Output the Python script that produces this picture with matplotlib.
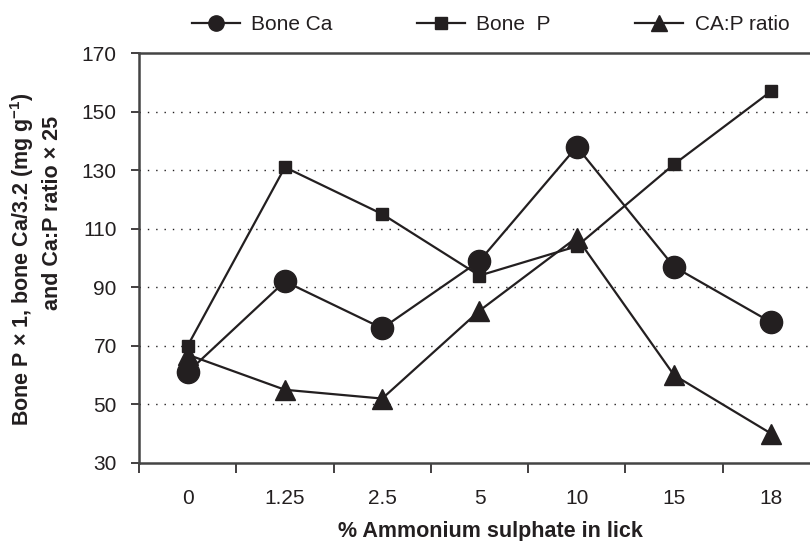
'''Bone Ca, bone P and Ca:P ratio against ammonium sulphate level in the lick.'''

import matplotlib.pyplot as plt
from matplotlib.lines import Line2D

plt.rcParams['font.family'] = ['Liberation Sans', 'DejaVu Sans']
plt.rcParams['mathtext.default'] = 'regular'

# Data
levels = ['0', '1.25', '2.5', '5', '10', '15', '18']
bone_ca = [61, 92, 76, 99, 138, 97, 78]
bone_p = [70, 131, 115, 94, 104, 132, 157]
ca_p_ratio = [67, 55, 52, 82, 107, 60, 40]
series_names = ['Bone Ca', 'Bone  P', 'CA:P ratio']

INK = '#231f20'
FS = 15

fig = plt.figure(figsize=(8.1, 5.41), dpi=100)
# right edge of the axes runs past the figure, as in the original crop
ax = fig.add_axes([0.1716, 0.1442, 0.8407, 0.7578])

x = list(range(len(levels)))
ax.plot(x, bone_ca, marker='o', markersize=16, color=INK, lw=1.6)
ax.plot(x, bone_p, marker='s', markersize=9, color=INK, lw=1.6)
ax.plot(x, ca_p_ratio, marker='^', markersize=14, color=INK, lw=1.6)

# Axes limits and ticks
ax.set_xlim(-0.5, len(levels) - 0.5)
ax.set_ylim(30, 170)
ax.set_yticks(range(30, 171, 20))
ax.set_xticks([i - 0.5 for i in range(len(levels) + 1)])
ax.set_xticklabels([])
ax.set_xticks(x, minor=True)
ax.set_xticklabels(levels, minor=True)
ax.tick_params(axis='x', which='minor', length=0, pad=19, labelsize=FS, colors=INK)
ax.tick_params(axis='x', which='major', direction='out', length=7, width=1.2, color=INK)
ax.tick_params(axis='y', direction='out', length=6, width=1.2, pad=10, labelsize=FS, colors=INK)

# Dotted gridlines between 50 and 150
for yv in range(50, 151, 20):
    ax.axhline(yv, color=INK, linestyle=(0, (1, 5)), lw=1.0, zorder=0)

for side in ['left', 'bottom', 'top']:
    ax.spines[side].set_linewidth(1.8)
    ax.spines[side].set_color('#444444')
ax.spines['right'].set_visible(False)

# Axis titles
fig.text(490 / 810, 4 / 541, '% Ammonium sulphate in lick', ha='center', va='baseline',
         fontsize=15.5, fontweight='bold', color=INK)
fig.text(22 / 810, 1 - 259 / 541, 'Bone P \u00d7 1, bone Ca/3.2 (mg g$^{\u22121}$)',
         rotation=90, ha='center', va='center', fontsize=15.5, fontweight='bold', color=INK)
fig.text(53 / 810, 1 - 213 / 541, 'and Ca:P ratio \u00d7 25',
         rotation=90, ha='center', va='center', fontsize=15.5, fontweight='bold', color=INK)

# Legend along the top
handles = [
    Line2D([], [], color=INK, lw=1.6, marker='o', markersize=11),
    Line2D([], [], color=INK, lw=1.6, marker='s', markersize=9),
    Line2D([], [], color=INK, lw=1.6, marker='^', markersize=12),
]
fig.legend(handles, series_names, loc='center left', bbox_to_anchor=(192 / 810, 1 - 25 / 541),
           ncol=3, frameon=False, fontsize=FS, handlelength=2.3, columnspacing=4.05,
           handletextpad=0.55, borderpad=0, borderaxespad=0, labelcolor=INK)

plt.savefig('out.png', dpi=100)
